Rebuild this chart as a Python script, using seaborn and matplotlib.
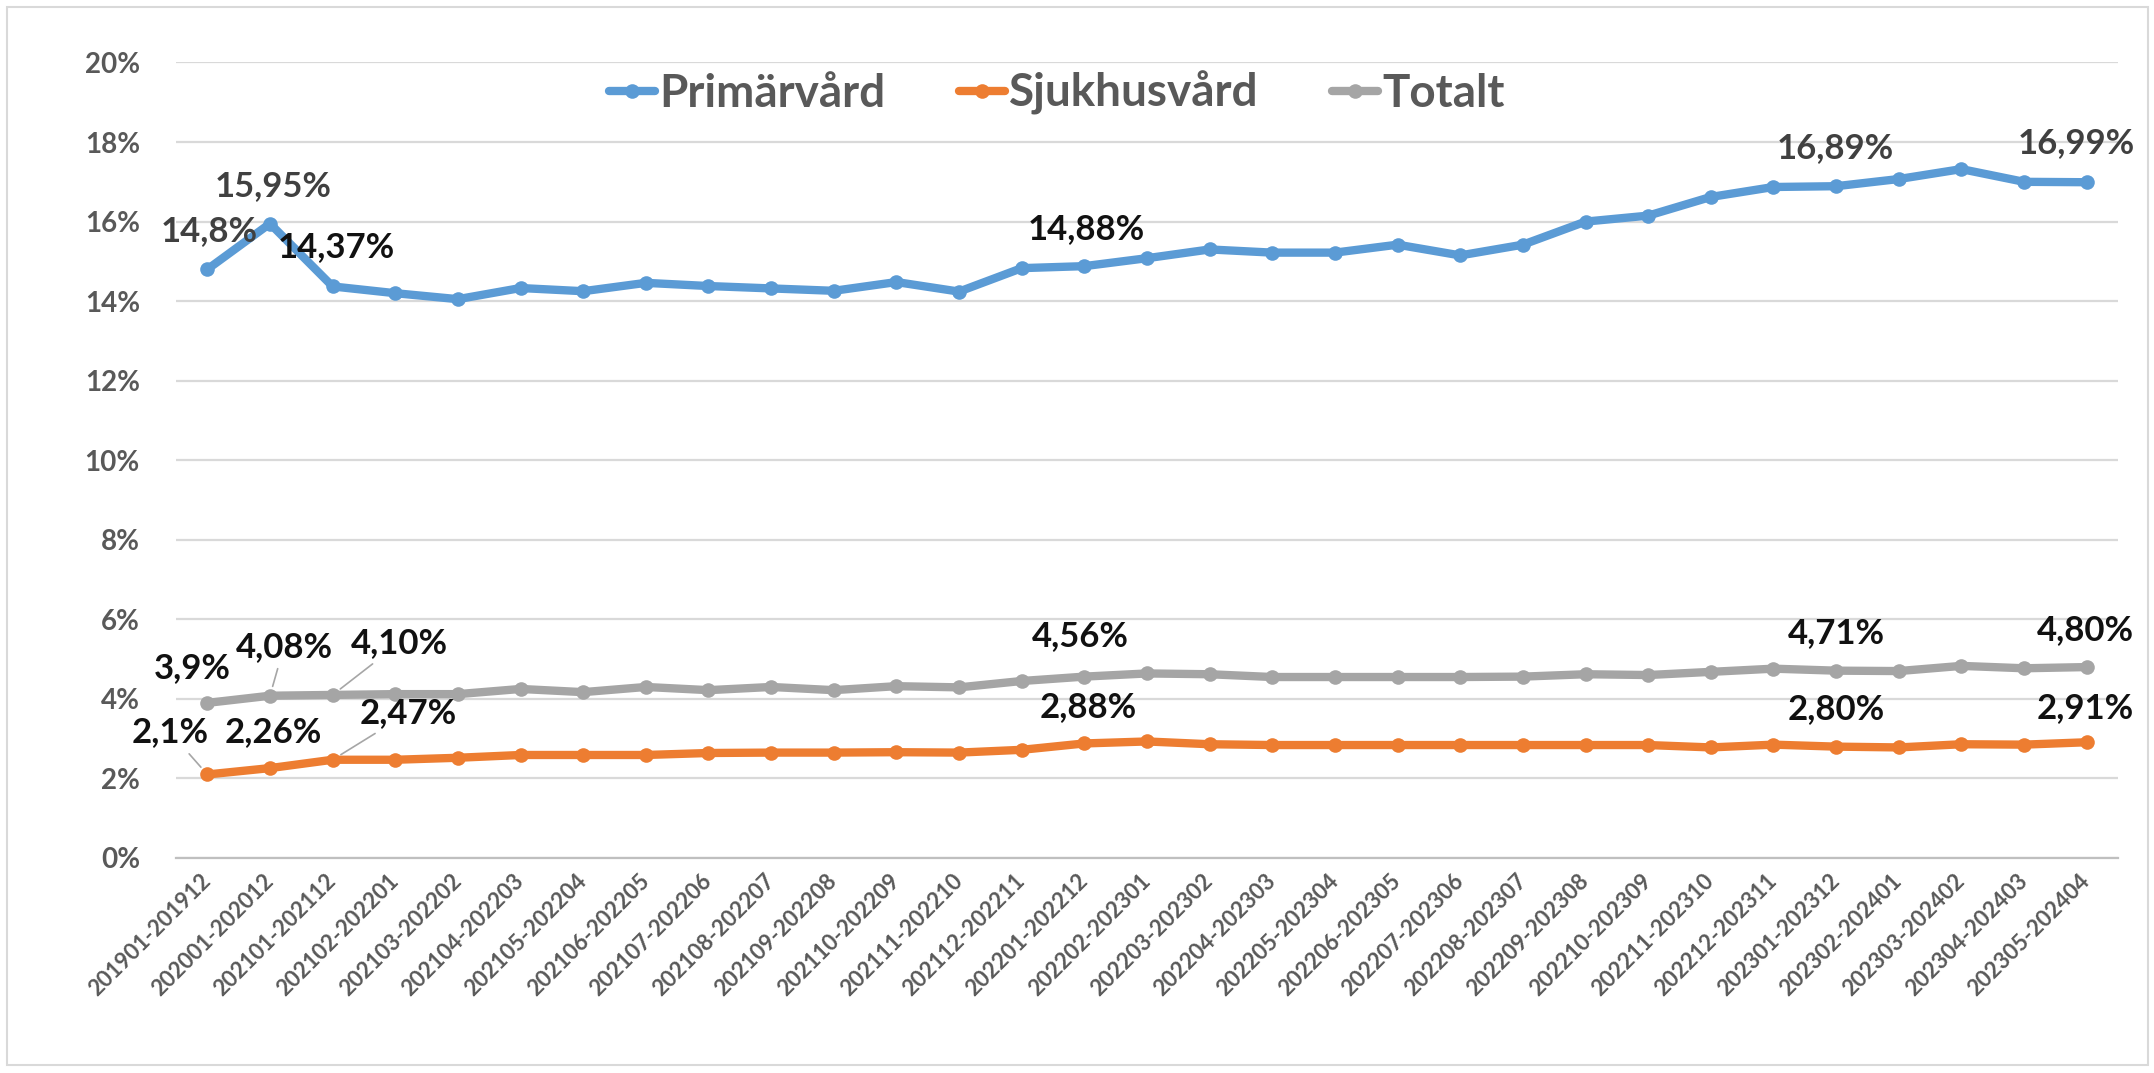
import matplotlib
matplotlib.use("Agg")
import matplotlib.pyplot as plt
import seaborn as sns
import pandas as pd
import numpy as np
from matplotlib.lines import Line2D
from matplotlib.patches import Rectangle

# ---------------- data ----------------
periods = ["201901-201912", "202001-202012", "202101-202112", "202102-202201",
           "202103-202202", "202104-202203", "202105-202204", "202106-202205",
           "202107-202206", "202108-202207", "202109-202208", "202110-202209",
           "202111-202210", "202112-202211", "202201-202212", "202202-202301",
           "202203-202302", "202204-202303", "202205-202304", "202206-202305",
           "202207-202306", "202208-202307", "202209-202308", "202210-202309",
           "202211-202310", "202212-202311", "202301-202312", "202302-202401",
           "202303-202402", "202304-202403", "202305-202404"]

primarvard = [14.80, 15.95, 14.37, 14.20, 14.05, 14.33, 14.25, 14.46, 14.38, 14.32,
              14.26, 14.48, 14.24, 14.83, 14.88, 15.08, 15.30, 15.22, 15.22, 15.42,
              15.15, 15.42, 16.00, 16.15, 16.62, 16.87, 16.89, 17.07, 17.32, 17.00,
              16.99]
sjukhusvard = [2.10, 2.26, 2.47, 2.47, 2.52, 2.59, 2.59, 2.59, 2.64, 2.65,
               2.65, 2.66, 2.65, 2.72, 2.88, 2.93, 2.86, 2.84, 2.84, 2.84,
               2.84, 2.84, 2.84, 2.84, 2.78, 2.85, 2.80, 2.78, 2.86, 2.85,
               2.91]
totalt = [3.90, 4.08, 4.10, 4.12, 4.12, 4.25, 4.17, 4.30, 4.22, 4.30,
          4.22, 4.32, 4.29, 4.45, 4.56, 4.64, 4.62, 4.55, 4.55, 4.55,
          4.55, 4.56, 4.62, 4.60, 4.68, 4.76, 4.71, 4.70, 4.83, 4.77,
          4.80]

series_names = ["Primärvård", "Sjukhusvård", "Totalt"]
y_ticks = [0, 2, 4, 6, 8, 10, 12, 14, 16, 18, 20]

# data labels: (series, category index, text)
data_labels = [
    ("Primärvård", 0, "14,8%"), ("Primärvård", 1, "15,95%"), ("Primärvård", 2, "14,37%"),
    ("Primärvård", 14, "14,88%"), ("Primärvård", 26, "16,89%"), ("Primärvård", 30, "16,99%"),
    ("Totalt", 0, "3,9%"), ("Totalt", 1, "4,08%"), ("Totalt", 2, "4,10%"),
    ("Totalt", 14, "4,56%"), ("Totalt", 26, "4,71%"), ("Totalt", 30, "4,80%"),
    ("Sjukhusvård", 0, "2,1%"), ("Sjukhusvård", 1, "2,26%"), ("Sjukhusvård", 2, "2,47%"),
    ("Sjukhusvård", 14, "2,88%"), ("Sjukhusvård", 26, "2,80%"), ("Sjukhusvård", 30, "2,91%"),
]

# ---------------- styling ----------------
colors = {"Primärvård": "#5B9BD5", "Sjukhusvård": "#ED7D31", "Totalt": "#A5A5A5"}
sns.set_style("white")
plt.rcParams["font.family"] = ["Lato", "DejaVu Sans"]

W, H = 2154, 1073
fig = plt.figure(figsize=(W / 100, H / 100), dpi=100)
ax = fig.add_axes([176 / W, 1 - 858 / H, (2118 - 176) / W, (858 - 62.5) / H])

values = {"Primärvård": primarvard, "Sjukhusvård": sjukhusvard, "Totalt": totalt}
df = pd.DataFrame({
    "Period": periods * 3,
    "Andel": primarvard + sjukhusvard + totalt,
    "Serie": [n for n in series_names for _ in periods],
})

sns.lineplot(data=df, x="Period", y="Andel", hue="Serie", hue_order=series_names,
             palette=colors, marker="o", markersize=10.5, markeredgewidth=0,
             linewidth=6, sort=False, legend=False, ax=ax)

ax.set_xlim(-0.5, len(periods) - 0.5)
ax.set_ylim(0, 20)
ax.set_xlabel("")
ax.set_ylabel("")

# y axis
ax.set_yticks(y_ticks)
ax.set_yticklabels([f"{v}%" for v in y_ticks], fontsize=20, fontweight="bold", color="#595959")
ax.yaxis.grid(True, color="#D9D9D9", linewidth=1.6)
ax.tick_params(axis="y", length=0, pad=26)

# x axis
ax.set_xticks(range(len(periods)))
ax.set_xticklabels(periods, rotation=45, ha="right", va="center", rotation_mode="anchor",
                   fontsize=16, fontweight="bold", color="#595959")
ax.tick_params(axis="x", which="major", length=0, pad=14)
ax.set_xticks(np.arange(-0.5, len(periods), 1.0), minor=True)
ax.tick_params(axis="x", which="minor", length=10, width=1.5, color="#BFBFBF")

for s in ["left", "right", "top"]:
    ax.spines[s].set_visible(False)
ax.spines["bottom"].set_color("#BFBFBF")
ax.spines["bottom"].set_linewidth(1.6)

# data labels
px = 0.72
offsets = {
    ("Primärvård", 0): (2, 38), ("Primärvård", 1): (3, 38), ("Primärvård", 2): (4, 39),
    ("Primärvård", 14): (2, 37), ("Primärvård", 26): (-1, 38), ("Primärvård", 30): (-10, 39),
    ("Totalt", 0): (-15, 35), ("Totalt", 1): (14, 49), ("Totalt", 2): (67, 52),
    ("Totalt", 14): (-4, 41), ("Totalt", 26): (0, 38), ("Totalt", 30): (-1, 37),
    ("Sjukhusvård", 0): (-37, 42), ("Sjukhusvård", 1): (3, 36), ("Sjukhusvård", 2): (76, 47),
    ("Sjukhusvård", 14): (4, 36), ("Sjukhusvård", 26): (0, 38), ("Sjukhusvård", 30): (-1, 34),
}
leaders = {("Totalt", 1), ("Totalt", 2), ("Sjukhusvård", 0), ("Sjukhusvård", 2)}
grey_labels = {("Primärvård", 0), ("Primärvård", 1), ("Primärvård", 26), ("Primärvård", 30)}

for serie, i, txt in data_labels:
    dx, dy = offsets[(serie, i)]
    kw = {}
    if (serie, i) in leaders:
        kw["arrowprops"] = dict(arrowstyle="-", color="#A6A6A6", lw=1.2,
                                shrinkA=2, shrinkB=7)
    ax.annotate(txt, xy=(i, values[serie][i]), xytext=(dx * px, dy * px),
                textcoords="offset points", ha="center", va="center",
                fontsize=25, fontweight="bold",
                color="#404040" if (serie, i) in grey_labels else "#111111",
                annotation_clip=False, **kw)

# legend
handles = [Line2D([0], [0], color=colors[n], lw=6, marker="o", markersize=10.5,
                  markeredgewidth=0) for n in series_names]
fig.legend(handles, series_names, loc="center", bbox_to_anchor=(1057 / W, 1 - 93 / H),
           ncol=3, frameon=False, prop=dict(weight="bold", size=33),
           labelcolor="#595959", handlelength=1.0, handletextpad=0.1,
           columnspacing=1.6)

# chart border
fig.patches.append(Rectangle((7 / W, 8 / H), (2148 - 7) / W, (1065 - 7) / H,
                             transform=fig.transFigure, fill=False,
                             edgecolor="#D9D9D9", linewidth=1.5))

fig.savefig("out.png", dpi=100, facecolor="white")
